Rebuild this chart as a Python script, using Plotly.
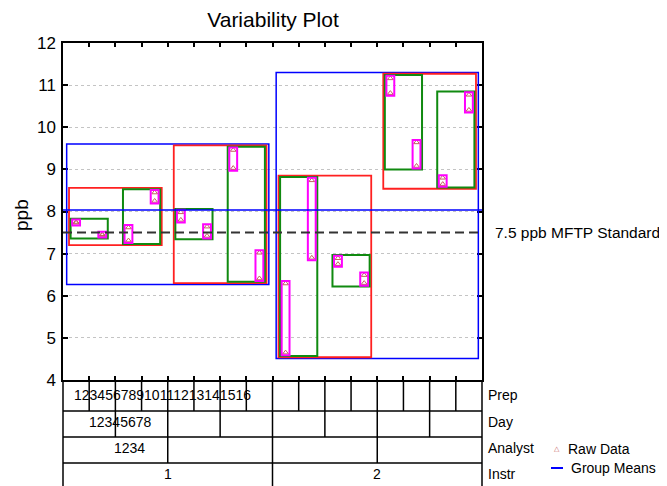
import plotly.graph_objects as go
import numpy as np

# ---------------- data ----------------
prep_labels = [str(i) for i in range(1, 17)]
day_labels = [str(i) for i in range(1, 9)]
analyst_labels = ["1", "2", "3", "4"]
instr_labels = ["1", "2"]
level_names = ["Prep", "Day", "Analyst", "Instr"]

# two readings per prep (ppb)
rep1 = [7.73, 7.46, 7.62, 8.45, 7.98, 7.64, 9.46, 7.02,
        6.29, 8.74, 6.89, 6.49, 11.16, 9.64, 8.80, 10.77]
rep2 = [7.75, 7.44, 7.31, 8.25, 7.80, 7.42, 9.03, 6.41,
        4.65, 6.90, 6.75, 6.30, 10.81, 9.08, 8.65, 10.41]
standard = 7.5
standard_label = "7.5 ppb MFTP Standard"

# ---------------- figure geometry ----------------
OFF = 8                      # page body margin
W, H = 667 - OFF, 486 - OFF
ML, MR, MT, MB = 55, 185, 35, 106
PW = W - ML - MR
PH = H - MT - MB
AX_BOTTOM = H - MB           # figure-pixel y of axis bottom


def pyp(ypix):               # screen pixel y -> paper
    return (AX_BOTTOM - (ypix - OFF)) / PH


def pxp(xpix):               # screen pixel x -> paper
    return (xpix - OFF - ML) / PW


n = len(prep_labels)
vals = np.array([rep1, rep2])
lo = vals.min(axis=0)
hi = vals.max(axis=0)
xc = np.arange(n) + 0.5

fig = go.Figure()

# raw data
fig.add_trace(go.Scatter(
    x=np.concatenate([xc, xc]), y=np.concatenate([rep1, rep2]),
    mode="markers",
    marker=dict(symbol="triangle-up-open", size=5, color="#c46060",
                line=dict(width=1, color="#c46060")),
    showlegend=False, hoverinfo="y"))

shapes = []


def box(x0, x1, y0, y1, color, width):
    shapes.append(dict(type="rect", xref="x", yref="y", x0=x0, x1=x1,
                       y0=y0, y1=y1, line=dict(color=color, width=width),
                       fillcolor="rgba(0,0,0,0)", layer="above"))


# group boxes: (group size in preps, half-width pad, y pad, colour, width)
levels = [(8, 0.36, 0.14, "#0000ff", 1.5),
          (4, 0.27, 0.11, "#ff2020", 1.8),
          (2, 0.21, 0.08, "#108a10", 2),
          (1, 0.15, 0.06, "#ff00ff", 2)]
for size, hw, pad, col, lw in levels:
    for g in range(n // size):
        s = slice(g * size, (g + 1) * size)
        box(xc[s][0] - hw, xc[s][-1] + hw,
            lo[s].min() - pad, hi[s].max() + pad, col, lw)

grand_mean = vals.mean()
# group means line
shapes.append(dict(type="line", xref="paper", yref="y", x0=0, x1=1,
                   y0=grand_mean, y1=grand_mean,
                   line=dict(color="#0000ff", width=1.5)))
# standard dashed line
shapes.append(dict(type="line", xref="paper", yref="y", x0=0, x1=1,
                   y0=standard, y1=standard,
                   line=dict(color="#333333", width=2, dash="9px,5px")))

# ---------------- table below ----------------
row_pix = [380, 411, 437, 463, 486]
blk = dict(color="black", width=1.5)
for yp in row_pix[1:4]:
    shapes.append(dict(type="line", xref="paper", yref="paper", x0=0, x1=1,
                       y0=pyp(yp), y1=pyp(yp), line=blk))
for xp in (0, 1):
    shapes.append(dict(type="line", xref="paper", yref="paper", x0=xp, x1=xp,
                       y0=0, y1=pyp(row_pix[4]), line=blk))
for b in range(1, n):
    if b % 8 == 0:
        bottom = row_pix[4]
    elif b % 4 == 0:
        bottom = row_pix[3]
    elif b % 2 == 0:
        bottom = row_pix[2]
    else:
        bottom = row_pix[1]
    shapes.append(dict(type="line", xref="x", yref="paper", x0=b, x1=b,
                       y0=0, y1=pyp(bottom), line=blk))

annotations = []
tf = dict(family="Liberation Sans, Arial, sans-serif", size=14, color="black")
row_text_y = [395, 421.5, 447.5, 474]
annotations.append(dict(text="".join(prep_labels), xref="x", yref="paper",
                        x=0.35, y=pyp(row_text_y[0]), xanchor="left",
                        yanchor="middle", showarrow=False, font=tf))
annotations.append(dict(text="".join(day_labels), xref="x", yref="paper",
                        x=0.92, y=pyp(row_text_y[1]), xanchor="left",
                        yanchor="middle", showarrow=False, font=tf))
annotations.append(dict(text="".join(analyst_labels), xref="x", yref="paper",
                        x=1.89, y=pyp(row_text_y[2]), xanchor="left",
                        yanchor="middle", showarrow=False, font=tf))
for i, lab in enumerate(instr_labels):
    annotations.append(dict(text=lab, xref="x", yref="paper",
                            x=i * 8 + 4, y=pyp(row_text_y[3]),
                            xanchor="center", yanchor="middle",
                            showarrow=False, font=tf))
for name, yp in zip(level_names, row_text_y):
    annotations.append(dict(text=name, xref="paper", yref="paper",
                            x=pxp(486), y=pyp(yp), xanchor="left",
                            yanchor="middle", showarrow=False, font=tf))

# standard label
annotations.append(dict(text=standard_label, xref="paper", yref="y",
                        x=pxp(493), y=standard, xanchor="left",
                        yanchor="middle", showarrow=False,
                        font=dict(family="Liberation Sans, Arial, sans-serif",
                                  size=15.5, color="black")))
# legend (manual)
annotations.append(dict(text="△", xref="paper", yref="paper",
                        x=pxp(557), y=pyp(448.5), xanchor="center",
                        yanchor="middle", showarrow=False,
                        font=dict(family="DejaVu Sans", size=7, color="#c46060")))
annotations.append(dict(text="Raw Data", xref="paper", yref="paper",
                        x=pxp(566), y=pyp(449), xanchor="left",
                        yanchor="middle", showarrow=False, font=tf))
shapes.append(dict(type="line", xref="paper", yref="paper",
                   x0=pxp(551), x1=pxp(563), y0=pyp(468), y1=pyp(468),
                   line=dict(color="#0000ff", width=2)))
annotations.append(dict(text="Group Means", xref="paper", yref="paper",
                        x=pxp(569), y=pyp(468), xanchor="left",
                        yanchor="middle", showarrow=False, font=tf))
# y-axis title
annotations.append(dict(text="ppb", xref="paper", yref="paper",
                        x=pxp(21), y=pyp(215), xanchor="center",
                        yanchor="middle", textangle=-90, showarrow=False,
                        font=dict(family="Liberation Sans, Arial, sans-serif",
                                  size=19, color="black")))

fig.update_layout(
    width=W, height=H,
    margin=dict(l=ML, r=MR, t=MT, b=MB, pad=0),
    paper_bgcolor="white", plot_bgcolor="white",
    title=dict(text="Variability Plot", x=pxp(273), xref="paper",
               y=1 - (20 - OFF) / H, yref="container", xanchor="center",
               yanchor="middle",
               font=dict(family="Liberation Sans, Arial, sans-serif",
                         size=21, color="black")),
    shapes=shapes, annotations=annotations,
    showlegend=False,
    xaxis=dict(range=[0, n], showgrid=False, zeroline=False,
               tickvals=list(range(1, n)), ticks="inside", ticklen=4,
               tickcolor="black", tickwidth=1.5, showticklabels=False,
               showline=True, linecolor="black", linewidth=1.5,
               mirror="ticks", fixedrange=True),
    yaxis=dict(range=[4, 12], tickvals=list(range(4, 13)), ticks="inside",
               ticklen=5, tickcolor="black", tickwidth=1.5,
               showline=True, linecolor="black", linewidth=1.5,
               mirror="ticks", zeroline=False, showgrid=True,
               gridcolor="#c4c4c4", griddash="dot", gridwidth=1,
               tickfont=dict(family="Liberation Sans, Arial, sans-serif",
                             size=17, color="black"),
               ticklabelstandoff=2),
)

fig.write_html("out.html")
